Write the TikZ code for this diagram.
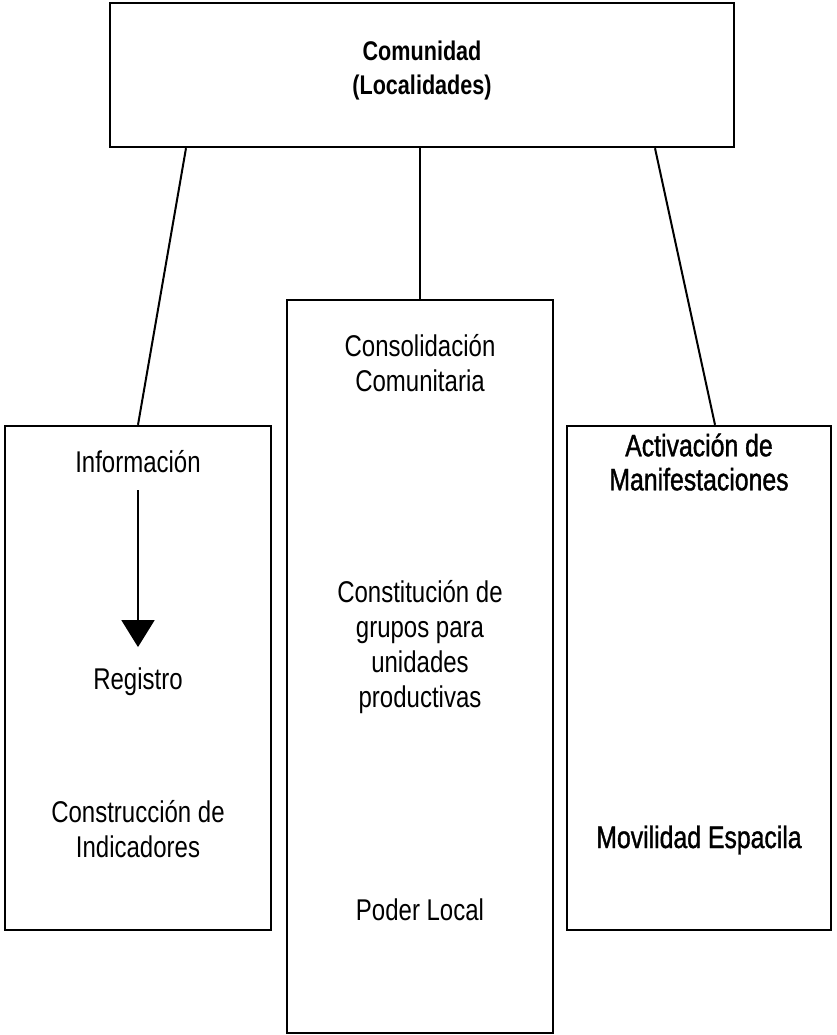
\documentclass[tikz,border=0pt]{standalone}
\usepackage{fontspec}
\setmainfont{Liberation Sans}[FakeStretch=0.8]
\newfontfamily\medfont{Liberation Sans}[FakeStretch=0.8,FakeBold=1.2]
\usetikzlibrary{arrows.meta,calc}
\newcommand{\txtfont}{\fontsize{30}{35}\selectfont}
\newcommand{\ttlfont}{\fontsize{27}{34}\selectfont\bfseries}
\newcommand{\actfont}{\fontsize{31}{34}\medfont}

\begin{document}
\begin{tikzpicture}[x=1pt,y=-1pt,
    every node/.style={draw=none,inner sep=0pt,align=center,font=\txtfont},
    box/.style={draw,line width=2.4pt,minimum width=#1},
    box/.default=266pt]
    \useasboundingbox (0,0) rectangle (836,1035);
    % boxes
    \node[box=624pt,minimum height=144pt] (com) at (422,75) {};
    \node[box,minimum height=504pt] (info) at (138,678) {};
    \node[box,minimum height=733pt] (mid)  at (420,666.5) {};
    \node[box=264pt,minimum height=504pt] (act) at (699,678) {};
    % texts
    \node[font=\ttlfont] (ttl) at (422,71) {Comunidad\\(Localidades)};
    \node[anchor=base] (inf) at (138,472) {Información};
    \node[anchor=base] (reg) at (138,689) {Registro};
    \node (ind) at (138,829.5) {Construcción de\\Indicadores};
    \node (cons) at (420,363.5) {Consolidación\\Comunitaria};
    \node (grp) at (420,647.5) {Constitución de\\grupos para\\unidades\\productivas};
    \node[anchor=base] (pod) at (420,920) {Poder Local};
    \node[font=\actfont] (man) at (699,462) {Activación de\\Manifestaciones};
    \node[anchor=base,font=\actfont] (mov) at (699,848) {Movilidad Espacila};
    % connectors
    \path[line width=2pt]
    ($(com.south)+(-236,0)$) edge (info.north)
    (mid.north |- com.south) edge (mid.north)
    ($(com.south)+(233,0)$) edge ($(act.north)+(16,0)$);
    \draw[line width=2pt,-{Triangle[width=33pt,length=27pt]},shorten <=18pt,shorten >=20pt]
    (inf) -- (reg);
  \end{tikzpicture}
\end{document}
